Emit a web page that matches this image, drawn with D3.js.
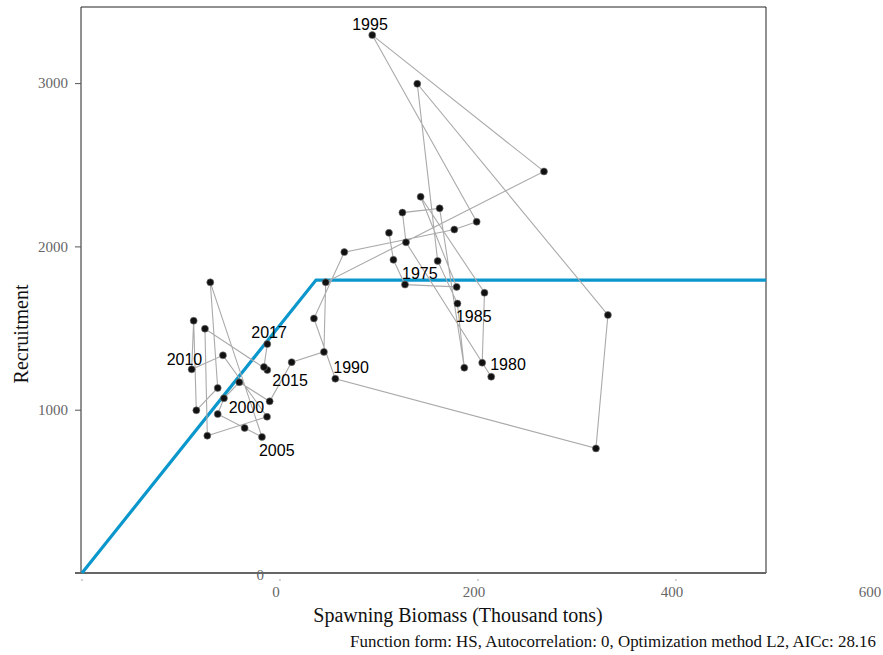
<!DOCTYPE html>
<html>
<head>
<meta charset="utf-8">
<script src="https://cdn.jsdelivr.net/npm/d3@7"></script>
<style>
  body { margin: 0; background: #fff; }
  svg { display: block; }
  .serif { font-family: "Liberation Serif", "DejaVu Serif", serif; }
  .yr { font-family: "Liberation Sans", Arial, sans-serif; font-size: 16px; fill: #000; }
</style>
</head>
<body>
<svg id="chart" width="883" height="655"></svg>
<script>
// stock-recruitment pairs, one per year
const years = [1973, 1974, 1975, 1976, 1977, 1978, 1979, 1980, 1981, 1982,
  1983, 1984, 1985, 1986, 1987, 1988, 1989, 1990, 1991, 1992,
  1993, 1994, 1995, 1996, 1997, 1998, 1999, 2000, 2001, 2002,
  2003, 2004, 2005, 2006, 2007, 2008, 2009, 2010, 2011, 2012,
  2013, 2014, 2015, 2016, 2017];

const ssb = [310.1, 314.6, 326.3, 378.5, 342.1, 406.6, 404.3, 413.4, 327.3, 323.7,
  361.3, 386.2, 379.3, 359.3, 338.7, 531.3, 519.2, 255.9, 234.3, 265.0,
  376.1, 398.7, 293.2, 466.7, 246.2, 244.4, 211.8, 189.6, 158.9, 143.4,
  137.1, 164.3, 181.8, 129.6, 137.1, 115.5, 112.8, 110.8, 142.4, 186.9,
  126.6, 124.2, 187.2, 183.8, 187.2];

const recruit = [2083, 1918, 1766, 1752, 2304, 1716, 1288, 1202, 2025, 2207,
  2233, 1257, 1650, 1911, 2996, 1580, 763, 1190, 1559, 1965,
  2103, 2151, 3294, 2459, 1780, 1354, 1291, 1051, 1168, 1070,
  973, 888, 833, 1780, 1133, 996, 1545, 1247, 1333, 957,
  841, 1496, 1243, 1261, 1402];

const labelYears = [1975, 1980, 1985, 1990, 1995, 2000, 2005, 2010, 2015, 2017];

// hockey-stick fit: breakpoint and plateau
const hsBreak = 236.4;
const hsPlateau = 1794;

const xTicks = [0, 200, 400, 600];
const yTicks = [0, 1000, 2000, 3000];

const caption = "Function form: HS, Autocorrelation: 0, Optimization method L2, AICc: 28.16";

const pts = years.map((yr, i) => ({ year: yr, s: ssb[i], r: recruit[i] }));

const svg = d3.select("#chart");
const plotL = 81, plotR = 766, plotT = 7, plotB = 573;

const x = d3.scaleLinear().domain([0, 691]).range([82, 766]);
const y = d3.scaleLinear().domain([0, 3466]).range([plotB, plotT]);

// frame
svg.append("path")
  .attr("d", `M${plotL},${plotB}V${plotT}H${plotR}V${plotB}`)
  .attr("fill", "none")
  .attr("stroke", "#222")
  .attr("stroke-width", 1);

// y axis
const yAxis = svg.append("g")
  .attr("class", "serif")
  .attr("transform", `translate(${plotL},0)`)
  .call(d3.axisLeft(y).tickValues(yTicks).tickSize(6).tickPadding(7)
    .tickFormat(d => d === 0 ? "" : d));
yAxis.select(".domain").remove();
yAxis.selectAll(".tick line").attr("stroke", "#555");
yAxis.selectAll(".tick text").attr("fill", "#666").attr("font-size", 15);

// the zero label of the y axis sits out on the baseline
svg.append("text")
  .attr("class", "serif")
  .attr("x", x(180))
  .attr("y", y(0) + 7)
  .attr("fill", "#666")
  .attr("font-size", 15)
  .attr("text-anchor", "middle")
  .text("0");

// x axis: tick marks, labels drawn one step further right
const xAxis = svg.append("g")
  .attr("transform", `translate(0,${plotB})`)
  .call(d3.axisBottom(x).tickValues(xTicks).tickSize(0).tickFormat(""));
xAxis.select(".domain").remove();
svg.append("line")
  .attr("x1", 75).attr("x2", plotR)
  .attr("y1", plotB).attr("y2", plotB)
  .attr("stroke", "#666").attr("stroke-width", 2);
svg.append("g").selectAll("circle")
  .data(xTicks)
  .join("circle")
  .attr("cx", d => x(d))
  .attr("cy", plotB + 7)
  .attr("r", 0.8)
  .attr("fill", "#999");
const step = x(200) - x(0);
svg.append("g").attr("class", "serif").selectAll("text")
  .data(xTicks)
  .join("text")
  .attr("x", d => x(d) + step - 4)
  .attr("y", plotB + 24)
  .attr("text-anchor", "middle")
  .attr("fill", "#666")
  .attr("font-size", 15)
  .text(d => d);

// axis titles
svg.append("text")
  .attr("class", "serif")
  .attr("x", 458).attr("y", 622)
  .attr("text-anchor", "middle")
  .attr("font-size", 20)
  .attr("fill", "#111")
  .text("Spawning Biomass (Thousand tons)");

svg.append("text")
  .attr("class", "serif")
  .attr("transform", "translate(28,334) rotate(-90)")
  .attr("text-anchor", "middle")
  .attr("font-size", 20)
  .attr("fill", "#111")
  .text("Recruitment");

svg.append("text")
  .attr("class", "serif")
  .attr("x", 876).attr("y", 647)
  .attr("text-anchor", "end")
  .attr("font-size", 16.9)
  .attr("fill", "#111")
  .text(caption);

// hockey-stick curve
const hsLine = d3.line().x(d => x(d[0])).y(d => y(d[1]));
svg.append("path")
  .attr("d", hsLine([[0, 0], [hsBreak, hsPlateau], [x.domain()[1], hsPlateau]]))
  .attr("fill", "none")
  .attr("stroke", "#0b97cc")
  .attr("stroke-width", 3.2);

// trajectory
svg.append("path")
  .datum(pts)
  .attr("d", d3.line().x(d => x(d.s)).y(d => y(d.r)))
  .attr("fill", "none")
  .attr("stroke", "#aaa")
  .attr("stroke-width", 1.1);

svg.append("g").selectAll("circle")
  .data(pts)
  .join("circle")
  .attr("cx", d => x(d.s))
  .attr("cy", d => y(d.r))
  .attr("r", 3.5)
  .attr("fill", "#111")
  .attr("stroke", "#777")
  .attr("stroke-width", 0.6);

// year labels, nudged off their points
const labelNudge = {
  1975: [-3, -10], 1980: [-1, -11], 1985: [-1.5, 14.5], 1990: [-2, -10],
  1995: [-20, -9], 2000: [-41, 7], 2005: [-3, 15], 2010: [-25, -9],
  2015: [5, 12], 2017: [-16, -10]
};
svg.append("g").selectAll("text")
  .data(pts.filter(d => labelYears.includes(d.year)))
  .join("text")
  .attr("class", "yr")
  .attr("x", d => x(d.s) + labelNudge[d.year][0])
  .attr("y", d => y(d.r) + labelNudge[d.year][1])
  .attr("dominant-baseline", "middle")
  .text(d => d.year);
</script>
</body>
</html>
